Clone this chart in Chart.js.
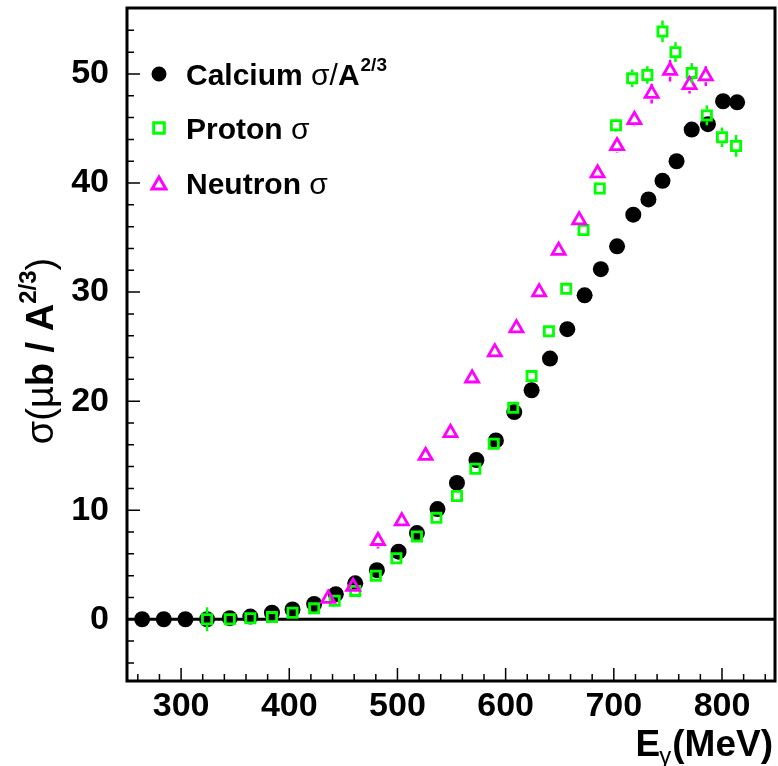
<!DOCTYPE html>
<html>
<head>
<meta charset="utf-8">
<script src="https://cdn.jsdelivr.net/npm/chart.js@4.4.1/dist/chart.umd.min.js"></script>
<style>
  html, body { margin: 0; padding: 0; background: #fff; }
  #wrap { width: 778px; height: 766px; }
</style>
</head>
<body>
<div id="wrap"><canvas id="xsecChart" width="778" height="766"></canvas></div>
<script>
// photon energy (MeV) and sigma values
const calciumE = [264, 284, 304, 324, 345, 364, 384, 403, 423, 443, 461, 481, 501, 518, 537, 555, 573, 591, 608, 624, 641, 657, 673, 688, 703, 718, 732, 745, 758, 772, 787, 801, 814];
const calciumSigma = [0.0, 0.0, 0.0, 0.0, 0.1, 0.25, 0.6, 0.9, 1.4, 2.3, 3.3, 4.5, 6.2, 7.9, 10.1, 12.5, 14.6, 16.4, 19.0, 21.0, 23.9, 26.6, 29.7, 32.1, 34.2, 37.1, 38.5, 40.2, 42.0, 44.9, 45.4, 47.5, 47.4];

const protonE = [324, 345, 364, 384, 403, 423, 442, 461, 480, 499, 518, 536, 555, 572, 589, 607, 624, 640, 656, 672, 687, 702, 717, 731, 745, 757, 772, 786, 800, 813];
const protonSigma = [0.0, 0.0, 0.1, 0.2, 0.6, 1.0, 1.7, 2.6, 4.0, 5.6, 7.6, 9.3, 11.3, 13.8, 16.1, 19.4, 22.3, 26.4, 30.3, 35.7, 39.5, 45.3, 49.6, 49.9, 53.9, 52.0, 50.1, 46.2, 44.2, 43.4];
const protonErr = [1.1, 0, 0, 0, 0, 0, 0, 0, 0, 0, 0, 0, 0, 0, 0, 0, 0, 0, 0, 0.4, 0.5, 0.6, 0.8, 0.8, 1.0, 0.9, 0.9, 0.9, 0.9, 1.0];

const neutronE = [436, 459, 482, 504, 526, 549, 569, 590, 610, 631, 649, 668, 685, 703, 719, 735, 752, 770, 785];
const neutronSigma = [1.9, 3.0, 7.2, 9.0, 15.0, 17.1, 22.1, 24.5, 26.7, 30.0, 33.8, 36.6, 40.9, 43.4, 45.8, 48.2, 50.3, 49.0, 49.8];
const neutronErr = [0, 0, 0.7, 0.5, 0, 0, 0, 0, 0, 0, 0, 0, 0.5, 0.6, 0.6, 0.9, 1.0, 0.8, 0.9];

const xTickValues = [300, 400, 500, 600, 700, 800];
const yTickValues = [0, 10, 20, 30, 40, 50];

const GREEN = '#00ff00';
const MAGENTA = '#ff00ff';
const FONT = '"Liberation Sans", Arial, Helvetica, sans-serif';

function toPoints(xs, ys) {
    return xs.map((x, i) => ({ x: x, y: ys[i] }));
}

// vertical error bars, drawn outside the marker like ROOT does
const errorBars = {
    id: 'errorBars',
    afterDatasetsDraw(chart) {
        const ctx = chart.ctx;
        const yScale = chart.scales.y;
        chart.data.datasets.forEach((ds, i) => {
            if (!ds.errors) return;
            const meta = chart.getDatasetMeta(i);
            ctx.save();
            ctx.strokeStyle = ds.borderColor;
            ctx.lineWidth = 2.5;
            meta.data.forEach((pt, j) => {
                const e = ds.errors[j];
                if (!e) return;
                const v = ds.data[j].y;
                const yTop = yScale.getPixelForValue(v + e);
                const yBot = yScale.getPixelForValue(v - e);
                const gap = 6;
                ctx.beginPath();
                if (yTop < pt.y - gap) { ctx.moveTo(pt.x, yTop); ctx.lineTo(pt.x, pt.y - gap); }
                if (yBot > pt.y + gap) { ctx.moveTo(pt.x, pt.y + gap); ctx.lineTo(pt.x, yBot); }
                ctx.stroke();
            });
            ctx.restore();
        });
    }
};

// frame, inward ticks, zero line, titles and legend
const decorations = {
    id: 'decorations',
    beforeDatasetsDraw(chart) {
        const ctx = chart.ctx;
        const area = chart.chartArea;
        const y0 = chart.scales.y.getPixelForValue(0);
        ctx.save();
        ctx.strokeStyle = '#000';
        ctx.lineWidth = 3;
        ctx.beginPath();
        ctx.moveTo(area.left, y0);
        ctx.lineTo(area.right, y0);
        ctx.stroke();
        ctx.restore();
    },
    afterDraw(chart) {
        const ctx = chart.ctx;
        const area = chart.chartArea;
        const xs = chart.scales.x;
        const ys = chart.scales.y;
        ctx.save();
        ctx.strokeStyle = '#000';

        // ticks
        ctx.lineWidth = 1.5;
        ctx.beginPath();
        for (let v = 260; v <= 840; v += 20) {
            const px = xs.getPixelForValue(v);
            const len = v % 100 === 0 ? 13 : 7;
            ctx.moveTo(px, area.bottom);
            ctx.lineTo(px, area.bottom - len);
        }
        for (let v = -4; v <= 54; v += 2) {
            const py = ys.getPixelForValue(v);
            const len = v % 10 === 0 ? 13 : 7;
            ctx.moveTo(area.left, py);
            ctx.lineTo(area.left + len, py);
        }
        ctx.stroke();

        // frame
        ctx.lineWidth = 3;
        ctx.strokeRect(area.left, area.top, area.right - area.left, area.bottom - area.top);

        ctx.fillStyle = '#000';
        ctx.textBaseline = 'alphabetic';

        // x title: E_gamma(MeV)
        const boldT = 'bold 37px ' + FONT;
        ctx.font = boldT;
        const wMeV = ctx.measureText('(MeV)').width;
        ctx.font = '24px ' + FONT;
        const wGam = ctx.measureText('γ').width;
        ctx.font = boldT;
        const wE = ctx.measureText('E').width;
        let x = 773 - wMeV - wGam - wE;
        const base = 756;
        ctx.textAlign = 'left';
        ctx.fillText('E', x, base);
        x += wE;
        ctx.font = '24px ' + FONT;
        ctx.fillText('γ', x - 1, base + 8);
        x += wGam;
        ctx.font = boldT;
        ctx.fillText('(MeV)', x, base);

        // y title: sigma(mu b / A^2/3), rotated
        const parts = [
            { t: 'σ(µ', f: '38px ' + FONT, dy: 0 },
            { t: 'b / A', f: 'bold 38px ' + FONT, dy: 0 },
            { t: '2/3', f: 'bold 24px ' + FONT, dy: -17 },
            { t: ')', f: '38px ' + FONT, dy: 0 }
        ];
        let total = 0;
        parts.forEach(p => { ctx.font = p.f; p.w = ctx.measureText(p.t).width; total += p.w; });
        ctx.translate(53, 351);
        ctx.rotate(-Math.PI / 2);
        let tx = -total / 2;
        parts.forEach(p => {
            ctx.font = p.f;
            ctx.fillText(p.t, tx, p.dy);
            tx += p.w;
        });
        ctx.setTransform(1, 0, 0, 1, 0, 0);

        // legend
        const rows = [
            { y: 74, style: 'circle', color: '#000', fill: '#000', r: 6, label: 'Calcium ', sup: '2/3' },
            { y: 128, style: 'rect', color: GREEN, fill: 'rgba(0,0,0,0)', r: 7.5, label: 'Proton ' },
            { y: 183, style: 'triangle', color: MAGENTA, fill: 'rgba(0,0,0,0)', r: 8, label: 'Neutron ' }
        ];
        rows.forEach(row => {
            ctx.save();
            ctx.strokeStyle = row.color;
            ctx.fillStyle = row.fill;
            ctx.lineWidth = 3;
            Chart.helpers.drawPoint(ctx, { pointStyle: row.style, radius: row.r, borderWidth: 3, rotation: 0 }, 159, row.style === 'triangle' ? row.y + 2 : row.y);
            ctx.restore();

            let lx = 186;
            const by = row.y + 11;
            ctx.font = 'bold 30px ' + FONT;
            ctx.fillText(row.label, lx, by);
            lx += ctx.measureText(row.label).width;
            ctx.font = '30px ' + FONT;
            ctx.fillText('σ', lx, by);
            lx += ctx.measureText('σ').width;
            if (row.sup) {
                ctx.fillText('/', lx, by);
                lx += ctx.measureText('/').width;
                ctx.font = 'bold 30px ' + FONT;
                ctx.fillText('A', lx, by);
                lx += ctx.measureText('A').width;
                ctx.font = 'bold 19px ' + FONT;
                ctx.fillText(row.sup, lx + 1, by - 14);
            }
        });
        ctx.restore();
    }
};

const ctx = document.getElementById('xsecChart').getContext('2d');

const xsecChart = new Chart(ctx, {
    type: 'scatter',
    data: {
        datasets: [
            {
                label: 'Neutron',
                data: toPoints(neutronE, neutronSigma),
                errors: neutronErr,
                pointStyle: 'triangle',
                pointRadius: 7.5,
                pointBorderWidth: 2.8,
                borderColor: MAGENTA,
                backgroundColor: 'rgba(0,0,0,0)',
                order: 1
            },
            {
                label: 'Proton',
                data: toPoints(protonE, protonSigma),
                errors: protonErr,
                pointStyle: 'rect',
                pointRadius: 6.5,
                pointBorderWidth: 2.8,
                borderColor: GREEN,
                backgroundColor: 'rgba(0,0,0,0)',
                order: 2
            },
            {
                label: 'Calcium',
                data: toPoints(calciumE, calciumSigma),
                pointStyle: 'circle',
                pointRadius: 8,
                pointBorderWidth: 0,
                borderColor: '#000',
                backgroundColor: '#000',
                order: 3
            }
        ]
    },
    options: {
        responsive: false,
        animation: false,
        events: [],
        layout: { autoPadding: false, padding: { top: 8, right: 3, left: 0, bottom: 0 } },
        plugins: {
            legend: { display: false },
            tooltip: { enabled: false }
        },
        scales: {
            x: {
                type: 'linear',
                min: 250,
                max: 849,
                grid: { display: false, drawTicks: false },
                border: { display: false },
                afterBuildTicks: scale => { scale.ticks = xTickValues.map(v => ({ value: v })); },
                afterFit: scale => {
                    scale.height = 85;
                    scale.paddingLeft = 0;
                    scale.paddingRight = 0;
                },
                ticks: {
                    color: '#000',
                    padding: 5,
                    font: { family: FONT, size: 34, weight: 'bold' }
                }
            },
            y: {
                type: 'linear',
                min: -5.66,
                max: 56.05,
                grid: { display: false, drawTicks: false },
                border: { display: false },
                afterBuildTicks: scale => { scale.ticks = yTickValues.map(v => ({ value: v })); },
                afterFit: scale => {
                    scale.width = 127;
                    scale.paddingTop = 0;
                    scale.paddingBottom = 0;
                },
                ticks: {
                    color: '#000',
                    padding: 18,
                    font: { family: FONT, size: 34, weight: 'bold' }
                }
            }
        }
    },
    plugins: [errorBars, decorations]
});
</script>
</body>
</html>
